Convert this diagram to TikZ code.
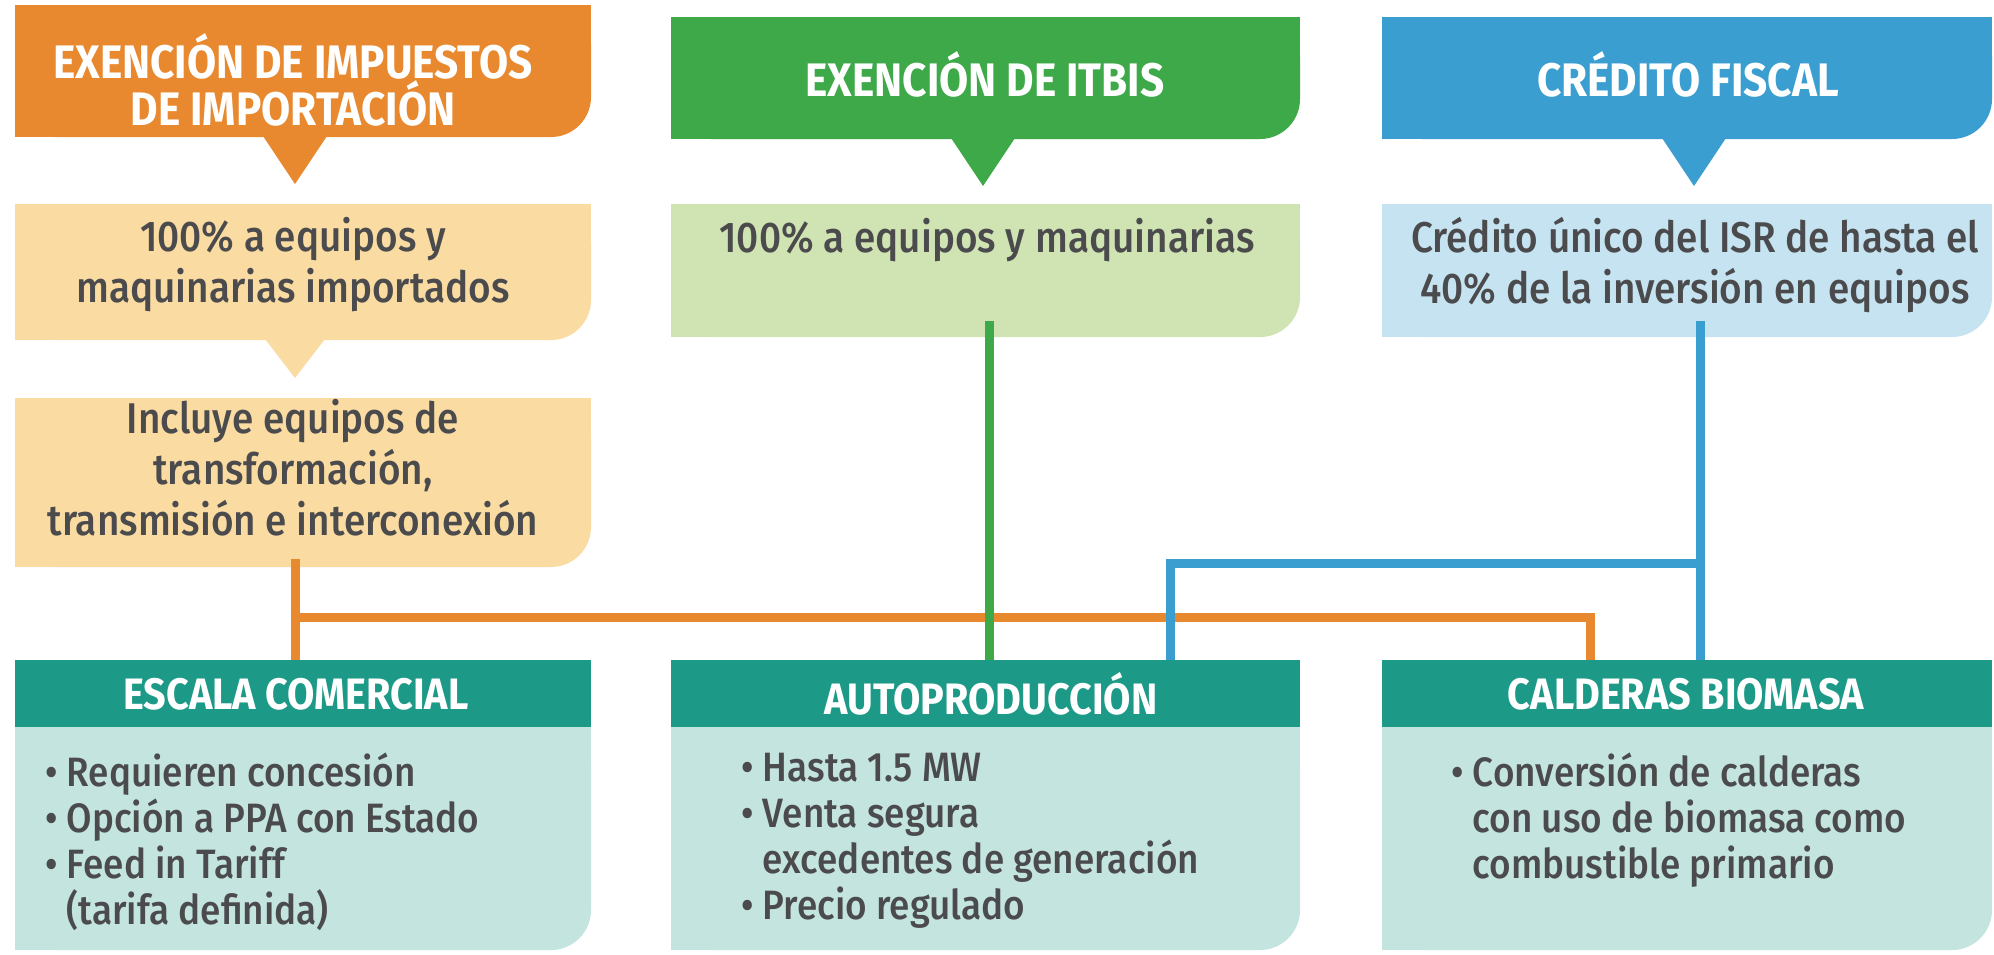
\documentclass[tikz,border=0pt]{standalone}
\usepackage{fontspec}
\setmainfont{Fira Sans}[UprightFont = * Medium, BoldFont = * Bold, FakeStretch=0.9]
\usetikzlibrary{calc,fit}
\definecolor{cOr}{HTML}{E8892F}
\definecolor{cOrL}{HTML}{FADCA2}
\definecolor{cGr}{HTML}{3DA948}
\definecolor{cGrL}{HTML}{D0E3B2}
\definecolor{cBl}{HTML}{3A9ED0}
\definecolor{cBlL}{HTML}{C5E3F1}
\definecolor{cTe}{HTML}{1C9A87}
\definecolor{cTeL}{HTML}{C4E4E0}
\definecolor{cTx}{HTML}{4B4B4D}
\newcommand{\fixcorner}[2]{%
  \fill[#2] (#1.north west) rectangle ($(#1.south east)+(0,-40)$);
  \fill[#2] (#1.north west) rectangle ($(#1.south east)+(-40,0)$);}
\begin{document}
\begin{tikzpicture}[x=1pt,y=-1pt,
  rbox/.style={rectangle, inner sep=0pt, outer sep=0pt, draw=none, rounded corners=40pt},
  sbox/.style={rectangle, inner sep=0pt, outer sep=0pt, draw=none},
  conn/.style={line width=9pt},
  hdrtxt/.style={text=white, font=\bfseries\fontsize{47}{43}\selectfont, align=center, inner sep=0pt},
  bodytxt/.style={text=cTx, font=\fontsize{43}{51}\selectfont, align=center, inner sep=0pt},
  bhdrtxt/.style={text=white, font=\bfseries\fontsize{44}{40}\selectfont, inner sep=0pt},
  listtxt/.style={text=cTx, font=\fontsize{41}{46}\selectfont, align=left, inner sep=0pt, anchor=north west}]
\useasboundingbox (0,0) rectangle (1994,954);
\fill[white] (0,0) rectangle (1994,954);

% top headers
\node[rbox, fill=cOr, fit={(15,5)(591,137)}] (hA) {};
\node[rbox, fill=cGr, fit={(671,17)(1300,139)}] (hB) {};
\node[rbox, fill=cBl, fit={(1382,17)(1992,139)}] (hC) {};
\fixcorner{hA}{cOr}
\fixcorner{hB}{cGr}
\fixcorner{hC}{cBl}
\fill[cOr] (263,136) -- (295,184) -- (327,136) -- cycle;
\fill[cGr] (951,138) -- (983,186) -- (1015,138) -- cycle;
\fill[cBl] (1662,138) -- (1694,186) -- (1726,138) -- cycle;

% light boxes
\node[rbox, fill=cOrL, fit={(15,204)(591,340)}] (a1) {};
\node[rbox, fill=cOrL, fit={(15,398)(591,567)}] (a2) {};
\node[rbox, fill=cGrL, fit={(671,204)(1300,337)}] (bB) {};
\node[rbox, fill=cBlL, fit={(1382,204)(1992,337)}] (bC) {};
\fixcorner{a1}{cOrL}
\fixcorner{a2}{cOrL}
\fixcorner{bB}{cGrL}
\fixcorner{bC}{cBlL}
\fill[cOrL] (265,339) -- (295,378) -- (325,339) -- cycle;

% bottom boxes
\node[sbox, fill=cTe, fit={(15,660)(591,727)}] (eH) {};
\node[rbox, fill=cTeL, fit={(15,727)(591,950)}] (eB) {};
\node[sbox, fill=cTe, fit={(671,660)(1300,727)}] (aH) {};
\node[rbox, fill=cTeL, fit={(671,727)(1300,950)}] (aB) {};
\node[sbox, fill=cTe, fit={(1382,660)(1992,727)}] (cH) {};
\node[rbox, fill=cTeL, fit={(1382,727)(1992,950)}] (cB) {};
\fixcorner{eB}{cTeL}
\fixcorner{aB}{cTeL}
\fixcorner{cB}{cTeL}

% connectors
\draw[conn, cOr] ($(a2.south)+(-8,-8)$) coordinate (o1) -- (o1 |- eH.north);
\coordinate (oj) at (295,617);
\draw[conn, cOr] (oj) -| ($(cH.north west)+(208,0)$);
\draw[conn, cGr] ($(bB.south)+(3.5,-16)$) coordinate (g1) -- (g1 |- aH.north);
\draw[conn, cBl] ($(bC.south)+(13,-16)$) coordinate (b1) -- (b1 |- cH.north);
\coordinate (bj) at (1701,563);
\draw[conn, cBl] (bj) -| ($(aH.north west)+(499,0)$);

% texts
\node[hdrtxt] (thA) at (293,80) {EXENCIÓN DE IMPUESTOS\\DE IMPORTACIÓN};
\node[hdrtxt] (thB) at (985,74) {EXENCIÓN DE ITBIS};
\node[hdrtxt] (thC) at (1688,74) {CRÉDITO FISCAL};
\node[bodytxt] (ta1) at (293,265) {100\% a equipos y\\maquinarias importados};
\node[bodytxt] (ta2) at (293,468) {Incluye equipos de\\transformación,\\transmisión e interconexión};
\node[bodytxt] (tbB) at (987,240) {100\% a equipos y maquinarias};
\node[bodytxt] (tbC) at (1695,265) {Crédito único del ISR de hasta el\\40\% de la inversión en equipos};

\node[bhdrtxt] (teH) at (296,694) {ESCALA COMERCIAL};
\node[bhdrtxt] (taH) at (991,694) {AUTOPRODUCCIÓN};
\node[bhdrtxt] (tcH) at (1686,694) {CALDERAS BIOMASA};

\node[listtxt] (teB) at (45,753) {• Requieren concesión\\• Opción a PPA con Estado\\• Feed in Tariff\\\hphantom{• }(tarifa definida)};
\node[listtxt] (taB) at (741,753) {• Hasta 1.5 MW\\• Venta segura\\\hphantom{• }excedentes de generación\\• Precio regulado};
\node[listtxt] (tcB) at (1451,753) {• Conversión de calderas\\\hphantom{• }con uso de biomasa como\\\hphantom{• }combustible primario};
\end{tikzpicture}
\end{document}
